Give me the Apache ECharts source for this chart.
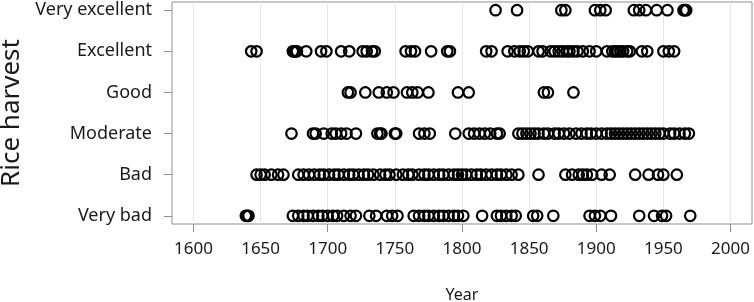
<!DOCTYPE html>
<html><head><meta charset="utf-8">
<script src="https://cdn.jsdelivr.net/npm/echarts@6/dist/echarts.min.js"></script>
<style>html,body{margin:0;padding:0;background:#fff}#c{width:754px;height:302px}</style>
</head><body><div id="c"></div>
<script>
const categories = ['Very bad', 'Bad', 'Moderate', 'Good', 'Excellent', 'Very excellent'];
const yearLabels = [1600, 1650, 1700, 1750, 1800, 1850, 1900, 1950, 2000];
const yearTicks = [1600, 1700, 1800, 1900, 2000];

const veryBad = [1639, 1640, 1641, 1674, 1678, 1682, 1685, 1689, 1693, 1696, 1700, 1704, 1707, 1712, 1717, 1721,
  1731, 1736, 1744, 1748, 1752, 1764, 1768, 1772, 1775, 1779, 1783, 1786, 1790, 1794, 1797, 1801, 1815, 1826, 1829,
  1833, 1837, 1840, 1853, 1856, 1868, 1895, 1899, 1903, 1911, 1932, 1943, 1949, 1952, 1970];
const bad = [1647, 1650, 1653, 1658, 1663, 1667, 1678, 1682, 1686, 1690, 1694, 1697, 1701, 1705, 1708, 1712, 1716,
  1719, 1723, 1727, 1730, 1734, 1739, 1743, 1746, 1751, 1756, 1760, 1763, 1768, 1772, 1775, 1779, 1783, 1786, 1790,
  1794, 1797, 1800, 1803, 1807, 1811, 1814, 1818, 1822, 1826, 1829, 1833, 1837, 1842, 1857, 1877, 1882, 1887, 1890,
  1893, 1897, 1904, 1910, 1929, 1939, 1946, 1950, 1960];
const moderate = [1673, 1689, 1691, 1697, 1703, 1706, 1710, 1714, 1721, 1737, 1739, 1740, 1750, 1751, 1768, 1772,
  1776, 1795, 1805, 1809, 1813, 1817, 1821, 1826, 1828, 1842, 1845, 1848, 1851, 1854, 1857, 1861, 1864, 1869, 1872,
  1876, 1880, 1885, 1889, 1893, 1896, 1900, 1904, 1908, 1911, 1914, 1917, 1920, 1923, 1926, 1929, 1932, 1935, 1938,
  1941, 1944, 1947, 1950, 1955, 1958, 1962, 1966, 1969];
const good = [1715, 1717, 1728, 1738, 1744, 1749, 1759, 1763, 1767, 1775, 1797, 1805, 1861, 1864, 1883];
const excellent = [1643, 1647, 1674, 1675, 1676, 1677, 1684, 1695, 1699, 1710, 1716, 1726, 1729, 1733, 1735, 1758,
  1762, 1765, 1777, 1789, 1791, 1818, 1822, 1834, 1839, 1843, 1846, 1849, 1857, 1860, 1866, 1869, 1872, 1875, 1878,
  1880, 1883, 1886, 1890, 1895, 1900, 1908, 1912, 1914, 1916, 1918, 1920, 1923, 1925, 1934, 1938, 1950, 1954, 1958];
const veryExcellent = [1825, 1841, 1874, 1877, 1899, 1903, 1907, 1928, 1932, 1937, 1945, 1953, 1965, 1966, 1967];

const rows = [veryBad, bad, moderate, good, excellent, veryExcellent];
const points = [];
rows.forEach((r, i) => r.forEach(y => points.push([y, i + 1])));

const FONT = 'Noto Sans';
const chart = echarts.init(document.getElementById('c'), null, {renderer: 'canvas'});
chart.setOption({
  animation: false,
  grid: {left: 172, right: 2, top: 2, bottom: 78, show: true, borderColor: '#8f8f8f', borderWidth: 1,
    containLabel: false, outerBoundsMode: 'none'},
  xAxis: [{
    type: 'value', min: 1584, max: 2016,
    axisLine: {show: false},
    axisTick: {show: true, customValues: yearLabels, length: 0, lineStyle: {color: 'rgba(0,0,0,0)'}},
    axisLabel: {customValues: yearLabels, formatter: v => String(v), margin: 17,
      fontFamily: FONT, fontSize: 17, color: '#1a1a1a'},
    splitLine: {show: true, lineStyle: {color: '#e6e6e6', width: 1}},
    name: 'Year', nameLocation: 'middle', nameGap: 63,
    nameTextStyle: {fontFamily: FONT, fontSize: 16, color: '#1a1a1a'}
  }, {
    type: 'value', min: 1584, max: 2016, position: 'bottom',
    axisLine: {show: false},
    axisTick: {show: true, customValues: yearTicks, length: 8, lineStyle: {color: '#8f8f8f'}},
    axisLabel: {show: false},
    splitLine: {show: false}
  }],
  yAxis: {
    type: 'value', min: 0.8, max: 6.2,
    axisLine: {show: false},
    axisTick: {show: true, customValues: [1, 2, 3, 4, 5, 6], length: 8, lineStyle: {color: '#8f8f8f'}},
    axisLabel: {customValues: [1, 2, 3, 4, 5, 6], formatter: v => categories[Math.round(v) - 1],
      margin: 20, fontFamily: FONT, fontSize: 18, color: '#1a1a1a'},
    splitLine: {show: false},
    name: 'Rice harvest', nameLocation: 'middle', nameGap: 146,
    nameTextStyle: {fontFamily: FONT, fontSize: 26, color: '#1a1a1a'}
  },
  series: [{
    type: 'scatter', xAxisIndex: 0, data: points, symbol: 'circle', symbolSize: 10.5,
    itemStyle: {color: 'rgba(0,0,0,0)', borderColor: '#000', borderWidth: 2.2, opacity: 1}
  }]
});
</script></body></html>
